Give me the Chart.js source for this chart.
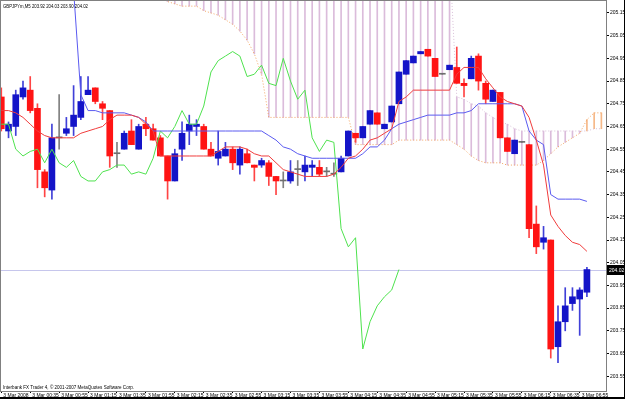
<!DOCTYPE html>
<html>
<head>
<meta charset="utf-8">
<script src="https://cdn.jsdelivr.net/npm/chart.js@4.4.1/dist/chart.umd.min.js"></script>
<style>
  html, body { margin: 0; padding: 0; background: #fff; }
  #wrap { width: 625px; height: 399px; }
</style>
</head>
<body>
<div id="wrap"><canvas id="chart" width="625" height="399"></canvas></div>
<script>
// GBPJPYm M5 with Ichimoku, one entry per 5-minute bar.
const symbolTitle = 'GBPJPYm,M5 203.92 204.03 203.90 204.02';
const copyrightText = 'Interbank FX Trader 4, \u00a9 2001-2007 MetaQuotes Software Corp.';
const bidPrice = 204.02;

// one label every 4 bars (bar 0, 4, 8 ... 80)
const timeLabels = [
  '3 Mar 2008', '3 Mar 00:35', '3 Mar 00:55', '3 Mar 01:15', '3 Mar 01:35', '3 Mar 01:55',
  '3 Mar 02:15', '3 Mar 02:35', '3 Mar 02:55', '3 Mar 03:15', '3 Mar 03:35', '3 Mar 03:55',
  '3 Mar 04:15', '3 Mar 04:35', '3 Mar 04:55', '3 Mar 05:15', '3 Mar 05:35', '3 Mar 05:55',
  '3 Mar 06:15', '3 Mar 06:35', '3 Mar 06:55',
];

const yTicks = [205.15, 205.05, 204.95, 204.85, 204.75, 204.65, 204.55, 204.45, 204.35,
  204.25, 204.15, 204.05, 203.95, 203.85, 203.75, 203.65, 203.55];

const opens = [
  204.78, 204.63, 204.65, 204.78, 204.81, 204.73, 204.45, 204.37, 204.60, 204.62,
  204.65, 204.69, 204.79, 204.82, 204.75, 204.72, 204.53, 204.55, 204.63, 204.55,
  204.66, 204.64, 204.60, 204.52, 204.41, 204.55, 204.63, 204.65, 204.65, 204.55,
  204.51, 204.52, 204.55, 204.48, 204.53, 204.48, 204.48, 204.49, 204.43, 204.41,
  204.41, 204.46, 204.45, 204.47, 204.47, 204.45, 204.44, 204.45, 204.52, 204.62,
  204.60, 204.66, 204.71, 204.64, 204.67, 204.75, 204.88, 204.93, 204.97, 204.99,
  204.95, 204.88, 204.90, 204.91, 204.84, 204.86, 204.96, 204.84, 204.76, 204.80,
  204.60, 204.53, 204.58, 204.57, 204.22, 204.14, 204.15, 203.68, 203.79, 203.87,
  203.89, 203.92,
];
const highs = [
  204.82, 204.67, 204.81, 204.85, 204.87, 204.75, 204.46, 204.66, 204.79, 204.69,
  204.83, 204.87, 204.87, 204.82, 204.76, 204.72, 204.58, 204.63, 204.68, 204.66,
  204.69, 204.66, 204.61, 204.52, 204.55, 204.67, 204.70, 204.68, 204.66, 204.58,
  204.63, 204.58, 204.56, 204.56, 204.55, 204.48, 204.51, 204.50, 204.43, 204.45,
  204.50, 204.50, 204.52, 204.50, 204.50, 204.47, 204.49, 204.52, 204.63, 204.62,
  204.65, 204.72, 204.71, 204.66, 204.74, 204.89, 204.94, 204.96, 204.98, 204.99,
  204.95, 204.88, 204.92, 205.00, 204.86, 204.96, 204.97, 204.85, 204.81, 204.80,
  204.60, 204.59, 204.58, 204.57, 204.30, 204.21, 204.15, 203.86, 203.94, 203.94,
  203.94, 204.03,
];
const lows = [
  204.63, 204.60, 204.61, 204.77, 204.71, 204.38, 204.34, 204.33, 204.55, 204.61,
  204.61, 204.68, 204.79, 204.75, 204.68, 204.47, 204.47, 204.55, 204.57, 204.55,
  204.61, 204.59, 204.52, 204.33, 204.41, 204.50, 204.57, 204.61, 204.55, 204.52,
  204.48, 204.52, 204.46, 204.44, 204.49, 204.41, 204.47, 204.39, 204.35, 204.38,
  204.40, 204.39, 204.41, 204.43, 204.43, 204.43, 204.43, 204.45, 204.52, 204.58,
  204.60, 204.66, 204.66, 204.64, 204.67, 204.75, 204.88, 204.93, 204.97, 204.96,
  204.87, 204.88, 204.90, 204.84, 204.78, 204.86, 204.81, 204.75, 204.76, 204.60,
  204.54, 204.53, 204.58, 204.16, 204.09, 204.11, 203.63, 203.61, 203.75, 203.84,
  203.73, 203.90,
];
const closes = [
  204.64, 204.66, 204.79, 204.82, 204.72, 204.46, 204.38, 204.60, 204.60, 204.64,
  204.70, 204.76, 204.81, 204.76, 204.73, 204.52, 204.53, 204.62, 204.57, 204.65,
  204.64, 204.59, 204.52, 204.41, 204.53, 204.62, 204.66, 204.66, 204.55, 204.52,
  204.54, 204.55, 204.49, 204.55, 204.49, 204.47, 204.50, 204.43, 204.41, 204.41,
  204.45, 204.46, 204.48, 204.48, 204.44, 204.45, 204.44, 204.51, 204.63, 204.60,
  204.65, 204.72, 204.66, 204.66, 204.74, 204.89, 204.94, 204.96, 204.98, 204.96,
  204.87, 204.88, 204.92, 204.84, 204.83, 204.95, 204.85, 204.77, 204.81, 204.60,
  204.54, 204.59, 204.58, 204.20, 204.12, 204.16, 203.67, 203.79, 203.86, 203.90,
  203.93, 204.02,
];

// Tenkan-sen (red) and Kijun-sen (blue), bars 0..81
const tenkan = [
  204.72, 204.72, 204.71, 204.69, 204.66, 204.63, 204.61, 204.60, 204.60, 204.60,
  204.60, 204.62, 204.63, 204.64, 204.65, 204.68, 204.70, 204.70, 204.70, 204.69,
  204.66, 204.63, 204.52, 204.52, 204.52, 204.52, 204.52, 204.52, 204.52, 204.52,
  204.54, 204.56, 204.56, 204.56, 204.55, 204.53, 204.52, 204.52, 204.49, 204.46,
  204.45, 204.44, 204.43, 204.43, 204.43, 204.43, 204.44, 204.47, 204.51, 204.52,
  204.55, 204.59, 204.60, 204.62, 204.64, 204.76, 204.78, 204.81, 204.81, 204.81,
  204.81, 204.81, 204.81, 204.88, 204.91, 204.91, 204.91, 204.86, 204.82, 204.78,
  204.76, 204.75, 204.74, 204.69, 204.59, 204.48, 204.26, 204.21, 204.17, 204.14,
  204.13, 204.10,
];
const kijun = [
  null, null, null, null, null, null, null, null, null, null,
  205.25, 204.79, 204.72, 204.72, 204.71, 204.71, 204.71, 204.71, 204.70, 204.69,
  204.67, 204.63, 204.63, 204.63, 204.63, 204.63, 204.63, 204.63, 204.63, 204.63,
  204.63, 204.63, 204.63, 204.63, 204.63, 204.63, 204.63, 204.61, 204.59, 204.56,
  204.55, 204.53, 204.52, 204.51, 204.51, 204.51, 204.51, 204.51, 204.51, 204.51,
  204.53, 204.56, 204.56, 204.59, 204.64, 204.66, 204.67, 204.68, 204.69, 204.70,
  204.70, 204.70, 204.70, 204.71, 204.71, 204.72, 204.75, 204.75, 204.75, 204.75,
  204.75, 204.75, 204.74, 204.63, 204.59, 204.57, 204.35, 204.33, 204.33, 204.33,
  204.33, 204.32,
];
// Chinkou span (lime), drawn 26 bars back: bars 0..55
const chikou = [
  204.66, 204.66, 204.55, 204.52, 204.54, 204.55, 204.49, 204.55, 204.49, 204.47,
  204.50, 204.43, 204.41, 204.41, 204.45, 204.46, 204.48, 204.48, 204.44, 204.45,
  204.44, 204.51, 204.63, 204.60, 204.65, 204.72, 204.66, 204.66, 204.74, 204.89,
  204.94, 204.96, 204.98, 204.96, 204.87, 204.88, 204.92, 204.84, 204.83, 204.95,
  204.85, 204.77, 204.81, 204.60, 204.54, 204.59, 204.58, 204.20, 204.12, 204.16,
  203.67, 203.79, 203.86, 203.90, 203.93, 204.02,
];
// Senkou spans, bars 0..83 (cloud runs two bars past the last candle)
const senkouA = [
  null, null, null, null, null, null, null, null, null, null,
  null, null, null, null, null, null, null, null, null, null,
  null, null, 205.22, 205.20, 205.19, 205.18, 205.18, 205.18, 205.16, 205.15,
  205.14, 205.12, 205.10, 205.07, 205.03, 204.97, 204.88, 204.69, 204.69, 204.69,
  204.69, 204.69, 204.69, 204.69, 204.69, 204.69, 204.69, 204.69, 204.69, 204.57,
  204.57, 204.57, 204.57, 204.57, 204.57, 204.59, 204.59, 204.59, 204.59, 204.59,
  204.59, 204.59, 204.59, 204.57, 204.55, 204.52, 204.50, 204.49, 204.49, 204.49,
  204.48, 204.48, 204.48, 204.48, 204.48, 204.50, 204.53, 204.56, 204.58, 204.60,
  204.62, 204.68, 204.71, 204.71,
];
const senkouB = [
  null, null, null, null, null, null, null, null, null, null,
  null, null, null, null, null, null, null, null, null, null,
  null, null, 205.40, 205.40, 205.40, 205.40, 205.40, 205.40, 205.40, 205.40,
  205.40, 205.40, 205.40, 205.40, 205.40, 205.40, 205.40, 205.40, 205.40, 205.40,
  205.40, 205.40, 205.40, 205.40, 205.40, 205.40, 205.40, 205.40, 205.40, 205.40,
  205.40, 205.40, 205.40, 205.40, 205.40, 205.40, 205.40, 205.40, 205.40, 205.40,
  205.40, 205.40, 205.40, 204.78, 204.77, 204.75, 204.74, 204.71, 204.69, 204.67,
  204.66, 204.64, 204.63, 204.63, 204.63, 204.63, 204.63, 204.63, 204.63, 204.63,
  204.63, 204.63, 204.64, 204.64,
];

const FONT = '"Liberation Sans", Arial, sans-serif';
const BULL = '#1414c8';
const BEAR = '#ff1414';
const FLAT = '#6e6e6e';

function candleColors(up, down, flat) {
  return opens.map((o, i) => (closes[i] > o ? up : closes[i] < o ? down : flat));
}

function linePoints(values) {
  return values
    .map((v, i) => ({ x: i, y: v }))
    .filter((p) => p.y !== null);
}

const cloudPoints = [];
const cloudColors = [];
senkouA.forEach((a, i) => {
  const b = senkouB[i];
  if (a === null || b === null) return;
  cloudPoints.push({ x: i, y: [Math.min(a, b), Math.max(a, b)] });
  cloudColors.push(a > b ? '#f6b887' : '#dbbcdb'); // sandy brown when A is above, thistle otherwise
});

// Bid line plus the MT4 text overlays (symbol header, copyright, black price tag, frame).
const mtOverlay = {
  id: 'mtOverlay',
  beforeDatasetsDraw(chart) {
    const { ctx, chartArea, scales } = chart;
    const py = Math.round(scales.y.getPixelForValue(bidPrice)) + 0.5;
    ctx.save();
    ctx.strokeStyle = '#c6c6ec';
    ctx.lineWidth = 1;
    ctx.beginPath();
    ctx.moveTo(chartArea.left, py);
    ctx.lineTo(chartArea.right, py);
    ctx.stroke();
    ctx.restore();
  },
  afterDraw(chart) {
    const { ctx, chartArea, scales, width, height } = chart;
    ctx.save();
    ctx.strokeStyle = '#808080';
    ctx.lineWidth = 1;
    ctx.strokeRect(chartArea.left + 0.5, chartArea.top + 0.5,
      chartArea.right - chartArea.left, chartArea.bottom - chartArea.top);

    ctx.fillStyle = '#000';
    ctx.font = `5px ${FONT}`;
    ctx.textBaseline = 'middle';
    ctx.textAlign = 'left';
    ctx.fillText(symbolTitle, 3, 6.5, 85);
    ctx.fillText(copyrightText, 3, 387.5, 131);

    const py = Math.round(scales.y.getPixelForValue(bidPrice));
    ctx.fillRect(chartArea.right + 1, py - 5, width - chartArea.right - 2, 10);
    ctx.fillStyle = '#fff';
    ctx.fillText(bidPrice.toFixed(2), chartArea.right + 3, py + 0.5);

    ctx.fillStyle = '#000';
    ctx.fillRect(0, height - 2, width, 2);
    ctx.fillRect(width - 1, 0, 1, height);
    ctx.restore();
  },
};

const ctx = document.getElementById('chart');
new Chart(ctx, {
  type: 'bar',
  data: {
    datasets: [
      {
        type: 'line', label: 'Tenkan-sen', data: linePoints(tenkan), order: 1,
        borderColor: '#f03c3c', borderWidth: 1, pointRadius: 0, tension: 0,
      },
      {
        type: 'line', label: 'Kijun-sen', data: linePoints(kijun), order: 1,
        borderColor: '#5a5af0', borderWidth: 1, pointRadius: 0, tension: 0,
      },
      {
        type: 'line', label: 'Chinkou Span', data: linePoints(chikou), order: 1,
        borderColor: '#4ee24e', borderWidth: 1, pointRadius: 0, tension: 0,
      },
      {
        label: 'Body', order: 2, grouped: false, barThickness: 6, minBarLength: 1,
        data: opens.map((o, i) => ({ x: i, y: [Math.min(o, closes[i]), Math.max(o, closes[i])] })),
        backgroundColor: candleColors(BULL, BEAR, FLAT),
      },
      {
        label: 'Wick', order: 3, grouped: false, barThickness: 1,
        data: opens.map((o, i) => ({ x: i, y: [lows[i], highs[i]] })),
        backgroundColor: candleColors('#4040d8', '#ff4444', '#808080'),
      },
      {
        type: 'line', label: 'Senkou Span A', data: linePoints(senkouA), order: 4,
        borderColor: '#f4a460', borderWidth: 1, borderDash: [1, 2], pointRadius: 0, tension: 0,
      },
      {
        type: 'line', label: 'Senkou Span B', data: linePoints(senkouB), order: 4,
        borderColor: '#d8bfd8', borderWidth: 1, borderDash: [1, 2], pointRadius: 0, tension: 0,
      },
      {
        label: 'Cloud', order: 5, grouped: false, barThickness: 1,
        data: cloudPoints, backgroundColor: cloudColors,
      },
    ],
  },
  options: {
    responsive: false,
    animation: false,
    devicePixelRatio: 1,
    layout: { padding: 0 },
    plugins: { legend: { display: false }, tooltip: { enabled: false } },
    scales: {
      x: {
        type: 'linear',
        min: -0.18,
        max: 83.64,
        offset: false,
        bounds: 'data',
        afterBuildTicks: (axis) => { axis.ticks = timeLabels.map((_, k) => ({ value: k * 4 })); },
        afterFit: (axis) => { axis.height = 8; axis.paddingLeft = 0; axis.paddingRight = 0; },
        ticks: {
          autoSkip: false, maxRotation: 0, minRotation: 0, align: 'start', labelOffset: 2,
          padding: 0, color: '#000', font: { family: FONT, size: 5 },
          callback: (value, index) => timeLabels[index],
        },
        grid: { drawOnChartArea: false, offset: false, tickLength: 2, color: '#000' },
        border: { color: '#808080' },
      },
      y: {
        type: 'linear',
        position: 'right',
        min: 203.485,
        max: 205.207,
        afterBuildTicks: (axis) => { axis.ticks = yTicks.map((v) => ({ value: v })); },
        afterFit: (axis) => { axis.width = 19; axis.paddingTop = 0; axis.paddingBottom = 0; },
        ticks: {
          padding: 1, color: '#000', font: { family: FONT, size: 5 },
          callback: (value) => Number(value).toFixed(2),
        },
        grid: { drawOnChartArea: false, tickLength: 3, color: '#000' },
        border: { color: '#808080' },
      },
    },
  },
  plugins: [mtOverlay],
});
</script>
</body>
</html>
